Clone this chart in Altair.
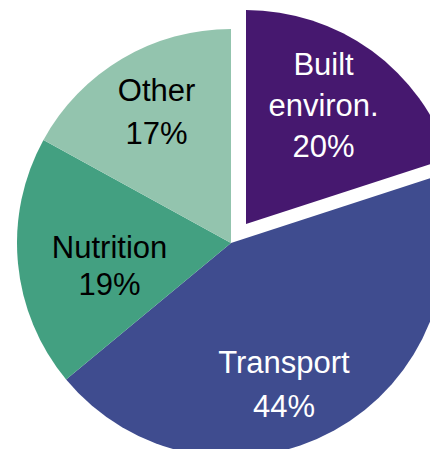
import math
import altair as alt
import pandas as pd

# ---- data ----
categories = ["Built environ.", "Transport", "Nutrition", "Other"]
label_names = ["Built\nenviron.", "Transport", "Nutrition", "Other"]
shares = [20, 44, 19, 17]
slice_colors = ["#46186f", "#3f4c8f", "#43a081", "#93c4ae"]

df = pd.DataFrame({
    "category": categories,
    "name": label_names,
    "share": shares,
    "order": list(range(len(categories))),
})

# ---- layout / style ----
W, H = 422, 441
R = 214
cx, cy = 223, 235          # pie centre
ex, ey = 238, 216          # centre of the exploded slice
exploded = "Built environ."

theta_scale = alt.Scale(domain=[0, 100], range=[0, 2 * math.pi])
color_scale = alt.Scale(domain=categories, range=slice_colors)

base = alt.Chart(df).transform_window(
    cum="sum(share)", sort=[alt.SortField("order")], frame=[None, 0]
).transform_calculate(
    start="datum.cum - datum.share",
    mid="datum.cum - datum.share / 2",
    label="datum.name + '\\n' + datum.share + '%'",
)

arc_enc = dict(
    theta=alt.Theta("start:Q", scale=theta_scale),
    theta2=alt.Theta2("cum:Q"),
    color=alt.Color("category:N", scale=color_scale, legend=None),
)

arcs = base.transform_filter(f"datum.category != '{exploded}'").mark_arc(
    radius=R
).encode(x=alt.value(cx), y=alt.value(cy), **arc_enc)

arc_ex = base.transform_filter(f"datum.category == '{exploded}'").mark_arc(
    radius=R
).encode(x=alt.value(ex), y=alt.value(ey), **arc_enc)

# label styling per slice: (origin, radius, dx, dy, lineHeight, colour)
label_style = {
    "Built environ.": ((ex, ey), 166, -20, -15, 41, "#ffffff"),
    "Transport": ((cx, cy), 139, -14, 8, 44, "#ffffff"),
    "Nutrition": ((cx, cy), 122, 0, 4, 37, "#000000"),
    "Other": ((cx, cy), 160, 7, -4, 43, "#000000"),
}

layers = [arcs, arc_ex]
for cat, ((ox, oy), r, dx, dy, lh, col) in label_style.items():
    layers.append(
        base.transform_filter(f"datum.category == '{cat}'").mark_text(
            radius=r, dx=dx, dy=dy, lineBreak="\n", lineHeight=lh,
            font="Liberation Sans", fontSize=31, color=col,
            align="center", baseline="alphabetic",
        ).encode(
            theta=alt.Theta("mid:Q", scale=theta_scale),
            text="label:N",
            x=alt.value(ox), y=alt.value(oy),
        )
    )

chart = alt.layer(*layers).properties(
    width=W, height=H,
    autosize=alt.AutoSizeParams(type="none"),
    padding=0,
).configure_view(stroke=None)

chart.save("out.html", embed_options={"renderer": "svg", "actions": False})
